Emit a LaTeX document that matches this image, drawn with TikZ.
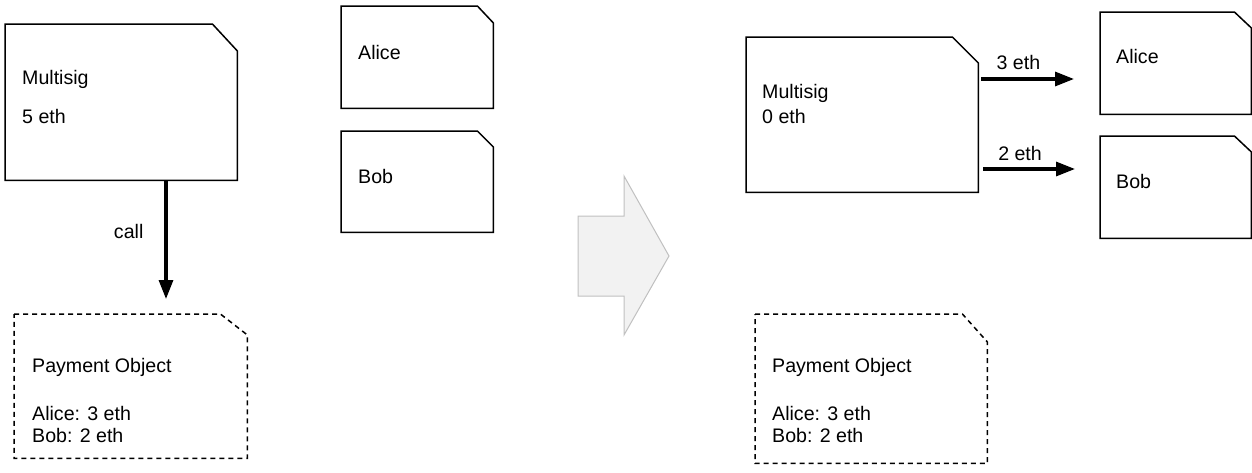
\documentclass[tikz,border=0pt]{standalone}
\usepackage{fontspec}
\setmainfont{Liberation Sans}
\usetikzlibrary{arrows.meta,calc}
\definecolor{bigfill}{HTML}{F2F2F2}
\definecolor{bigline}{HTML}{C0C0C0}
\begin{document}
\begin{tikzpicture}[x=1pt,y=-1pt,
  frame/.style={draw=none,inner sep=0pt,anchor=north west},
  outline/.style={draw=black,line width=1.5pt,line join=miter},
  dashline/.style={outline,dash pattern=on 5pt off 4pt},
  txt/.style={anchor=base west,inner sep=0pt,font=\fontsize{19.6}{22}\selectfont},
  lbl/.style={anchor=base,inner sep=0pt,font=\fontsize{19.6}{22}\selectfont},
  arr/.style={draw=black,line width=3.2pt,-{Triangle[length=19pt,width=14pt]}},
  bigarrow/.style={fill=bigfill,draw=bigline,line width=1pt}]
\useasboundingbox (0,0) rectangle (1252,472);
% helper: draw snipped box around a named frame node
\newcommand{\snipdraw}[4]{%
  \draw[#1] (#2.north west) -- ([xshift=-#3pt]#2.north east) -- ([yshift=-#4pt]#2.north east) -- (#2.south east) -- (#2.south west) -- cycle;}
% left side frames
\node[frame,minimum width=232pt,minimum height=156pt] (ms1) at (5,24) {};
\node[frame,minimum width=152pt,minimum height=102pt] (al1) at (341,6) {};
\node[frame,minimum width=152pt,minimum height=101pt] (bo1) at (341,131) {};
\node[frame,minimum width=233pt,minimum height=144pt] (po1) at (14,314) {};
% right side frames
\node[frame,minimum width=232pt,minimum height=155pt] (ms2) at (746,37) {};
\node[frame,minimum width=151pt,minimum height=102pt] (al2) at (1100,12) {};
\node[frame,minimum width=151pt,minimum height=102pt] (bo2) at (1100,136) {};
\node[frame,minimum width=232pt,minimum height=149pt] (po2) at (755,314) {};
% outlines
\snipdraw{outline}{ms1}{25}{27}
\snipdraw{outline}{al1}{16}{17}
\snipdraw{outline}{bo1}{16}{16}
\snipdraw{dashline}{po1}{27}{21}
\snipdraw{outline}{ms2}{26}{26}
\snipdraw{outline}{al2}{17}{16}
\snipdraw{outline}{bo2}{17}{16}
\snipdraw{dashline}{po2}{25}{28}
% texts
\node[txt] (ms1a) at (22,84) {Multisig};
\node[txt] (ms1b) at (22,123) {5 eth};
\node[txt] (al1t) at (358,59) {Alice};
\node[txt] (bo1t) at (358,183) {Bob};
\node[txt] (po1a) at (32,372) {Payment Object};
\node[txt] (po1b) at (32,420) {Alice: 3 eth};
\node[txt] (po1c) at (32,442) {Bob: 2 eth};
\node[txt] (ms2a) at (762,98) {Multisig};
\node[txt] (ms2b) at (762,123) {0 eth};
\node[txt] (al2t) at (1116,63) {Alice};
\node[txt] (bo2t) at (1116,188) {Bob};
\node[txt] (po2a) at (772,372) {Payment Object};
\node[txt] (po2b) at (772,420) {Alice: 3 eth};
\node[txt] (po2c) at (772,442) {Bob: 2 eth};
% connectors
\draw[arr] ([xshift=161pt]ms1.south west) -- node[pos=0.49,anchor=base east,inner sep=0pt,xshift=-21pt,font=\fontsize{19.6}{22}\selectfont] (calllbl) {call} ([xshift=152pt,yshift=15pt]po1.north west);
\draw[arr] ($(ms2.north east)+(3,42)$) -- node[lbl,pos=0.4,yshift=10pt] (l3) {3 eth} ($(al2.north west)+(-26,67)$);
\draw[arr] ($(ms2.north east)+(5,132)$) -- node[lbl,pos=0.4,yshift=9pt] (l2) {2 eth} ($(bo2.north west)+(-25,33)$);
% big transition arrow
\draw[bigarrow] (578,216) -- (624,216) -- (624,176) -- (669,256) -- (624,335) -- (624,296) -- (578,296) -- cycle;
\end{tikzpicture}
\end{document}
